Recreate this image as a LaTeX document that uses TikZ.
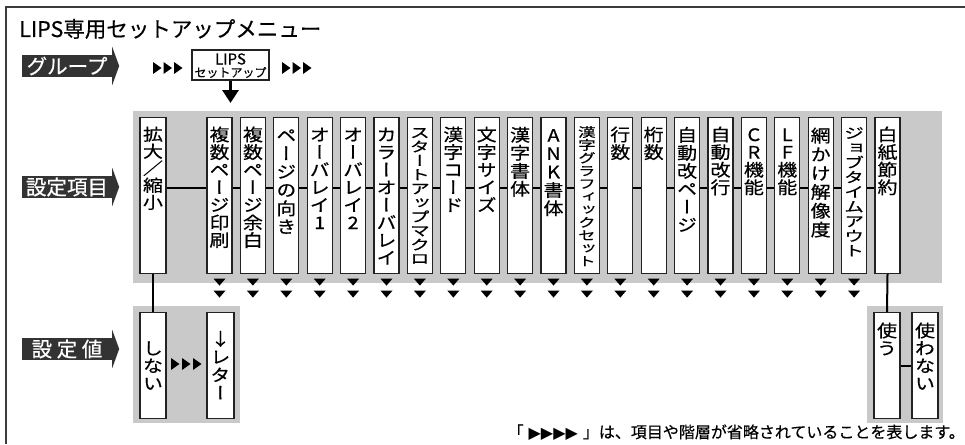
\documentclass[tikz,border=0pt]{standalone}
\usepackage{fontspec}
\usepackage{graphicx}
\setmainfont{Noto Sans CJK JP}[FakeBold=0.35]
\newfontfamily\jpv{Noto Sans CJK JP}[RawFeature=+vert, FakeBold=0.45]
\newfontfamily\jph{Noto Sans CJK JP}[FakeBold=0.45]
\newfontfamily\dvs{DejaVu Sans}
\usetikzlibrary{arrows.meta,calc}
\definecolor{bandgray}{RGB}{201,201,201}
\definecolor{tagdark}{RGB}{51,51,51}
\definecolor{edge}{RGB}{34,34,34}
\definecolor{framec}{RGB}{60,60,60}

\newdimen\vtstep
\def\vtscale{1}
\def\vtxs{1}
\def\vtend{VTEND}
\def\vtrow#1{\ifx\vtend#1\else\vbox to\vtstep{\vss\hbox to 0pt{\hss\smash{\scalebox{\vtxs}[\vtscale]{#1}}\hss}\kern0.12\vtstep}\expandafter\vtrow\fi}
% [#1 x scale] #2 box height, #3 step (number), #4 vertical scale, #5 top material, #6 text
\newcommand\vcol[6][1]{\vbox to #2{\offinterlineskip\vtstep=#3pt\relax\def\vtscale{#4}\def\vtxs{#1}\jpv\fontsize{20}{20}\selectfont #5\expandafter\vtrow#6\vtend\vss}}

\begin{document}
\begin{tikzpicture}[x=1pt,y=-1pt,
  col/.style={draw=edge, line width=1.1pt, fill=white, inner sep=0pt, minimum width=25pt, minimum height=156pt, anchor=north},
  band/.style={fill=bandgray, inner sep=0pt, anchor=north west},
  tag/.style={fill=tagdark, text=white, inner sep=0pt, minimum width=90pt, minimum height=22pt, font=\fontsize{20.5}{20.5}\selectfont},
  conn/.style={line width=2pt, black},
  frame/.style={line width=2pt, framec}]
\useasboundingbox (0,0) rectangle (965,444);

% frame (top and left)
\draw[frame] (6,444) -- (6,7.5) -- (965,7.5);

% title
\node[anchor=base west, inner sep=0pt, font=\fontsize{21.5}{21.5}\selectfont] (title) at (19,37) {LIPS専用セットアップメニュー};

% tags with arrowheads
\node[tag] (tgroup) at (67,66) {グループ};
\node[tag] (titem) at (67,187) {設定項目};
\node[tag] (tval) at (67,349) {設 定 値};
\foreach \n in {tgroup,titem,tval}
  \fill[tagdark] (\n.north east) -- ([yshift=8pt]\n.north east) -- ([xshift=7pt]\n.east) -- ([yshift=-8pt]\n.south east) -- (\n.south east) -- cycle;

% group row
\node[draw=edge, line width=1.1pt, fill=white, minimum width=77pt, minimum height=30pt, inner sep=0pt] (lips) at (230.5,65) {};
\node[anchor=base, inner sep=0pt, font=\fontsize{15}{15}\selectfont] (lipsA) at (230.5,64.5) {LIPS};
\node[anchor=base, inner sep=0pt, font=\fontsize{12}{12}\selectfont] (lipsB) at (230.5,77) {セットアップ};
\foreach \x in {153,163.5,174,282,292.5,303}
  \fill (\x,62) -- ++(8.5,6) -- ++(-8.5,6) -- cycle;
\coordinate (atip) at (230.5,103);
\draw[line width=3pt, -{Triangle[length=13pt,width=16pt]}] (lips.south) -- (atip);

% gray bands
\node[band, minimum width=809pt, minimum height=172pt] (band1) at (133,111) {};
\node[band, minimum width=107pt, minimum height=117pt] (band2) at (133,306) {};
\node[band, minimum width=76pt, minimum height=117pt] (band3) at (867,306) {};

% setting items
\node[col, minimum width=26pt] (c0) at (153,117) {\vcol{156pt}{17}{0.83}{\kern8pt}{拡大{\jph ／}縮小}};
\foreach \i/\txt/\st/\sc/\xs in {
1/複数ページ印刷/17.6/0.86/1,
2/複数ページ余白/17.6/0.86/1,
3/ページの向き/18.3/0.86/1,
4/オーバレイ1/17.6/0.86/1,
5/オーバレイ2/17.6/0.86/1,
6/カラーオーバレイ/17.6/0.86/1,
7/スタートアップマクロ/14/0.70/1,
8/漢字コード/17.6/0.86/1,
9/文字サイズ/17.6/0.86/1,
10/漢字書体/18/0.86/1,
11/ANK書体/18.3/0.86/1,
12/漢字グラフィックセット/12.9/0.64/0.88,
13/行数/17.6/0.86/1,
14/桁数/17.6/0.86/1,
15/自動改ページ/18/0.86/1,
16/自動改行/17.6/0.86/1,
17/CR機能/17.6/0.86/1,
18/LF機能/17.6/0.86/1,
19/網かけ解像度/18.8/0.86/1,
20/ジョブタイムアウト/14.7/0.72/1,
21/白紙節約/17.6/0.86/1}
  \node[col] (c\i) at ({219.5+33.4*(\i-1)},117) {\vcol[\xs]{156pt}{\st}{\sc}{\kern8pt}{\txt}};

% horizontal connectors
\foreach \i [count=\j from 1] in {0,...,20}
  \draw[conn] ([yshift=8pt]c\i.east) -- ([yshift=8pt]c\j.west);

% down triangles
\foreach \i in {1,...,20}{
  \fill ($(c\i.south)+(-6,4.5)$) -- ++(12,0) -- ++(-6,7) -- cycle;
  \fill ($(c\i.south)+(-6,16.5)$) -- ++(12,0) -- ++(-6,7) -- cycle;
}

% values
\node[col, minimum width=26pt, minimum height=106pt] (v1) at (153,312) {\vcol{106pt}{17.6}{0.86}{\vss}{しない}};
\node[col, minimum width=27pt, minimum height=106pt] (v2) at (220.5,312) {\vcol{106pt}{18}{0.86}{\vss}{↓レター}};
\foreach \x in {171,182,193}
  \fill (\x,358) -- ++(8.5,6) -- ++(-8.5,6) -- cycle;
\node[col, minimum width=26pt, minimum height=106pt] (u1) at (887,312) {\vcol{106pt}{17.6}{0.86}{\kern9pt}{使う}};
\node[col, minimum width=26pt, minimum height=106pt] (u2) at (925,312) {\vcol{106pt}{17.6}{0.86}{\kern9pt}{使わない}};

\draw[conn] (c0.south) -- (v1.north);
\draw[conn] (c21.south) -- (u1.north);
\draw[conn] (u1.east) -- (u2.west);

% footnote
\node[anchor=base east, inner sep=0pt, font=\fontsize{16}{16}\selectfont] (note) at (965,438) {「\kern5pt{\dvs\fontsize{16}{16}\selectfont ▶▶▶▶}\kern5pt」は、項目や階層が省略されていることを表します。};
\end{tikzpicture}
\end{document}
